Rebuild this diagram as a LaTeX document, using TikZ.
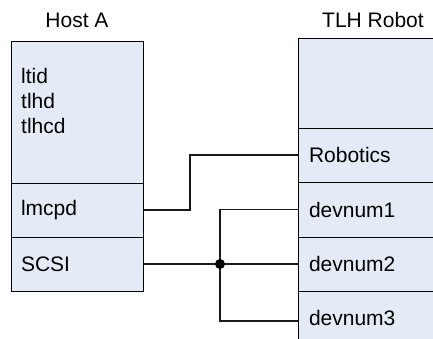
\documentclass[tikz,border=0pt]{standalone}
\usepackage{fontspec}
\setmainfont{Liberation Sans}
\usetikzlibrary{positioning}
\definecolor{cellfill}{RGB}{228,235,246}

\begin{document}
\begin{tikzpicture}[x=1pt,y=-1pt,node distance=0pt,
    label font/.style={font=\fontsize{21}{25}\selectfont},
    cell/.style={label font,draw,fill=cellfill,line width=0.9pt,outer sep=0pt,minimum height=54pt,inner xsep=10pt,align=left},
    host cell/.style={cell,minimum width=132pt,text width=112pt},
    robot cell/.style={cell,minimum width=160pt,text width=138pt,inner xsep=11pt},
    wire/.style={line width=1.8pt,draw=black!90}]
    \useasboundingbox (0,0) rectangle (433,338);
    \clip (0,0) rectangle (433,338);

    % Host A
    \node[label font,anchor=base] (hosttitle) at (77,27) {Host A};
    \node[host cell,minimum height=142pt,anchor=north west] (hosttop) at (11,41) {};
    \node[label font,inner sep=0pt,anchor=north west,align=left] (daemons) at (21,68) {ltid\\tlhd\\tlhcd};
    \node[host cell] (lmcpd) [below=of hosttop] {lmcpd};
    \node[host cell,minimum height=54pt] (scsi) [below=of lmcpd] {SCSI};

    % TLH Robot
    \node[label font,anchor=base] (robottitle) at (373,27) {TLH Robot};
    \node[robot cell,minimum height=90pt,anchor=north west] (robottop) at (298,38) {};
    \node[robot cell] (robotics) [below=of robottop] {Robotics};
    \node[robot cell,minimum height=55pt] (devnum1) [below=of robotics] {devnum1};
    \node[robot cell] (devnum2) [below=of devnum1] {devnum2};
    \node[robot cell] (devnum3) [below=of devnum2] {devnum3};

    % connections
    \coordinate (bus) at ([xshift=77pt]scsi.east);
    \draw[wire] (lmcpd.east) -- ++(47,0) |- (robotics.west);
    \draw[wire] (scsi.east) -- (scsi.east -| devnum2.west);
    \draw[wire] (devnum1.west) -| (bus) |- ([yshift=-3pt]devnum3.west);
    \fill (bus) circle (5);
\end{tikzpicture}
\end{document}
